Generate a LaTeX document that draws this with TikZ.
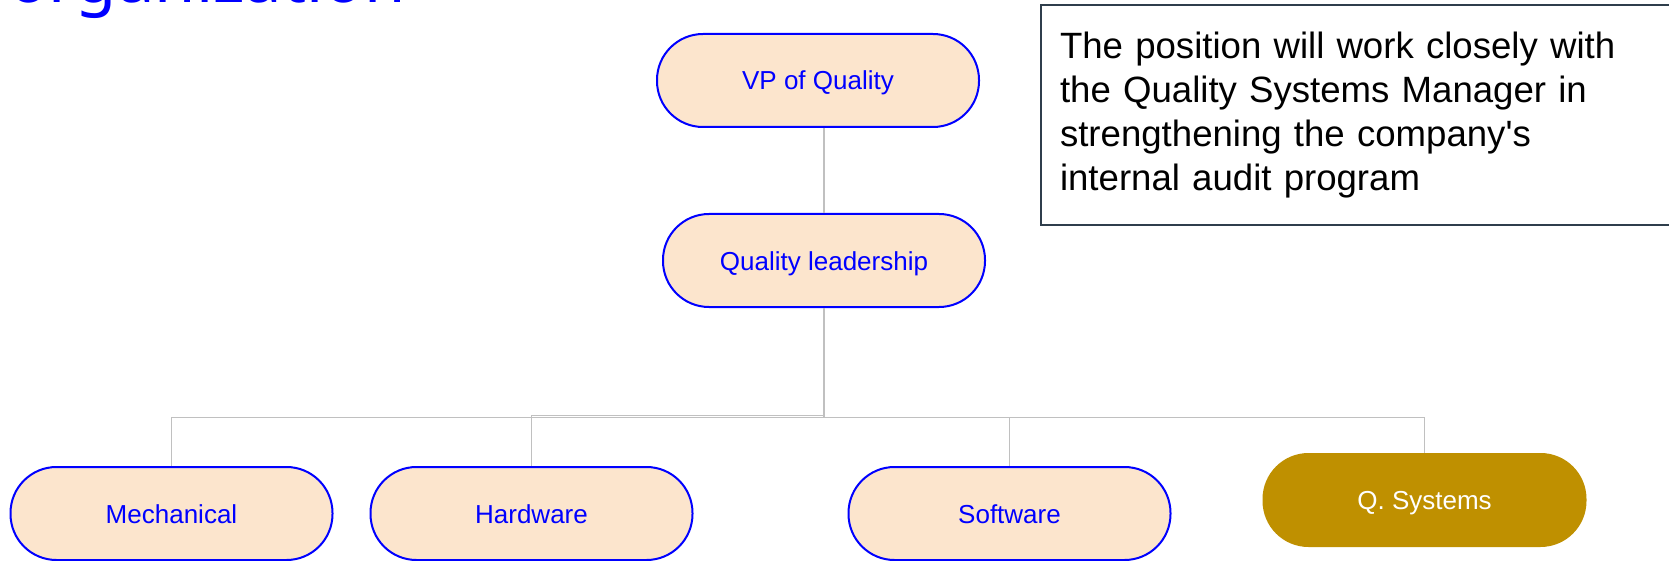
\documentclass[tikz,border=0pt]{standalone}
\usepackage{fontspec}
\setmainfont{Liberation Sans}
\newfontfamily\titlefont{Noto Sans}
\definecolor{peach}{HTML}{FCE5CD}
\definecolor{gold}{HTML}{BF9000}
\definecolor{conngray}{HTML}{C0C0C0}
\definecolor{slate}{HTML}{2F3E4C}
\definecolor{pureblue}{HTML}{0000FF}
\begin{document}
\begin{tikzpicture}[x=1pt,y=-1pt,
  unit/.style={draw=pureblue, line width=2pt, fill=peach, rounded corners=46pt,
    minimum width=322pt, minimum height=93pt, inner sep=0pt, text=pureblue,
    text height=19pt, text depth=0pt,
    font=\fontsize{26}{30}\selectfont},
  qsys/.style={fill=gold, rounded corners=46pt, minimum width=324pt, minimum height=94pt,
    inner sep=0pt, text=white, text height=19pt, text depth=0pt,
    font=\fontsize{26}{30}\selectfont},
  conn/.style={draw=conngray, line width=1.6pt},
  notebox/.style={draw=slate, line width=2pt, anchor=north west, inner xsep=19pt,
    inner ysep=27pt, text width=600pt, align=left, text=black,
    font=\fontsize{36.6}{44}\selectfont}]
\useasboundingbox (0,0) rectangle (1669,561);

% title (cut off at top)
\node[anchor=base west, inner sep=0pt, text=pureblue,
  font=\titlefont\fontsize{67}{70}\selectfont] (title) at (8,2.5) {organization};

% note box
\node[notebox] (note) at (1040,4) {The position will work closely with\\
the Quality Systems Manager in\\
strengthening the company\textquotesingle s\\
internal audit program};

% nodes
\node[unit] (VP) at (818,80.5) {VP of Quality};
\node[unit] (QL) at (824,260.5) {Quality leadership};
\node[unit] (M) at (171.5,513.5) {Mechanical};
\node[unit] (H) at (531.5,513.5) {Hardware};
\node[unit] (S) at (1009.5,513.5) {Software};
\node[qsys] (Q) at (1424.5,500) {Q. Systems};

% connectors
\coordinate (bus) at (824,417.5);
\coordinate (busH) at (824,415.5);
\draw[conn] (VP.south -| QL.north) -- (QL.north);
\draw[conn] (QL.south) |- (M.north |- bus) -- (M.north);
\draw[conn] (QL.south) |- (H.north |- busH) -- (H.north);
\draw[conn] (QL.south) |- (S.north |- bus) -- (S.north);
\draw[conn] (QL.south) |- (Q.north |- bus) -- (Q.north);
\end{tikzpicture}
\end{document}
